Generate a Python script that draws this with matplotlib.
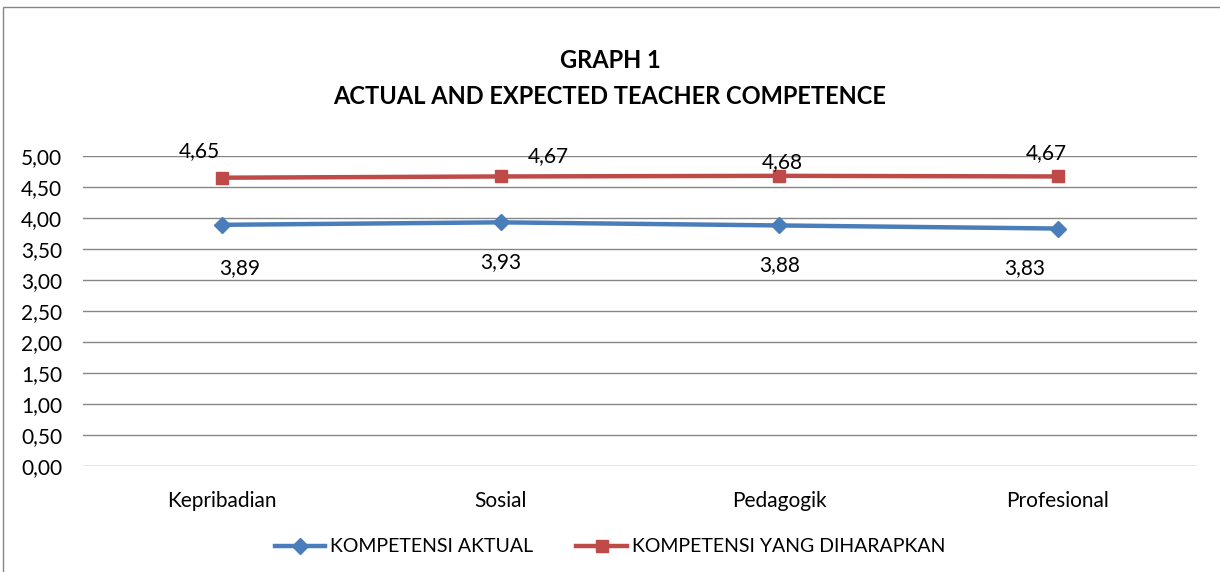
import matplotlib
matplotlib.use('AGG')
import matplotlib.pyplot as plt
from matplotlib.patches import Rectangle

plt.rcParams['font.family'] = ['Lato', 'DejaVu Sans']

categories = ['Kepribadian', 'Sosial', 'Pedagogik', 'Profesional']
aktual = [3.89, 3.93, 3.88, 3.83]
harapan = [4.65, 4.67, 4.68, 4.67]
yticks = [0, 0.5, 1, 1.5, 2, 2.5, 3, 3.5, 4, 4.5, 5]

# label offsets (pixels) as placed in the original chart
off_aktual = [(17, -43), (0, -40), (0, -40), (-33, -40)]
off_harapan = [(-23, 27), (48, 20), (3, 14), (-11, 23)]

fig = plt.figure(figsize=(12.2, 5.72), dpi=100)
fig.patches.append(Rectangle((3 / 1220, -0.1), 1.2, 1 - 7 / 572 + 0.1,
                             transform=fig.transFigure, fill=False,
                             edgecolor='#868686', linewidth=1))
ax = fig.add_axes([83 / 1220, 1 - 466 / 572, 1114 / 1220, 310 / 572])

x = list(range(len(categories)))
l1, = ax.plot(x, aktual, color='#4a7ebb', linewidth=3.2, marker='D', markersize=8,
              label='KOMPETENSI AKTUAL')
l2, = ax.plot(x, harapan, color='#be4b48', linewidth=3.2, marker='s', markersize=9,
              label='KOMPETENSI YANG DIHARAPKAN')

for i, v in enumerate(aktual):
    ax.annotate(f'{v:.2f}'.replace('.', ','), (i, v), xytext=off_aktual[i],
                textcoords='offset pixels', ha='center', va='center', fontsize=15)
for i, v in enumerate(harapan):
    ax.annotate(f'{v:.2f}'.replace('.', ','), (i, v), xytext=off_harapan[i],
                textcoords='offset pixels', ha='center', va='center', fontsize=15)

ax.set_xlim(-0.5, 3.5)
ax.set_ylim(0, 5)
ax.set_yticks(yticks)
ax.set_yticklabels([f'{t:.2f}'.replace('.', ',') for t in yticks], fontsize=15)
ax.set_xticks(x)
ax.set_xticklabels(categories, fontsize=15)
ax.tick_params(length=0)
ax.tick_params(axis='y', pad=15)
ax.tick_params(axis='x', pad=18)
ax.grid(axis='y', color='#868686', linewidth=1)
ax.set_axisbelow(True)
for s in ax.spines.values():
    s.set_visible(False)

fig.text(0.5, 1 - 61 / 572, 'GRAPH 1', ha='center', va='center',
         fontsize=17, fontweight='bold')
fig.text(0.5, 1 - 96 / 572, 'ACTUAL AND EXPECTED TEACHER COMPETENCE', ha='center',
         va='center', fontsize=17, fontweight='bold')

fig.legend(handles=[l1, l2], loc='center', bbox_to_anchor=(0.5, 1 - 547 / 572),
           ncol=2, frameon=False, fontsize=14, handlelength=2.6, columnspacing=2.2,
           handletextpad=0.25)

fig.savefig('out.png', dpi=100)
